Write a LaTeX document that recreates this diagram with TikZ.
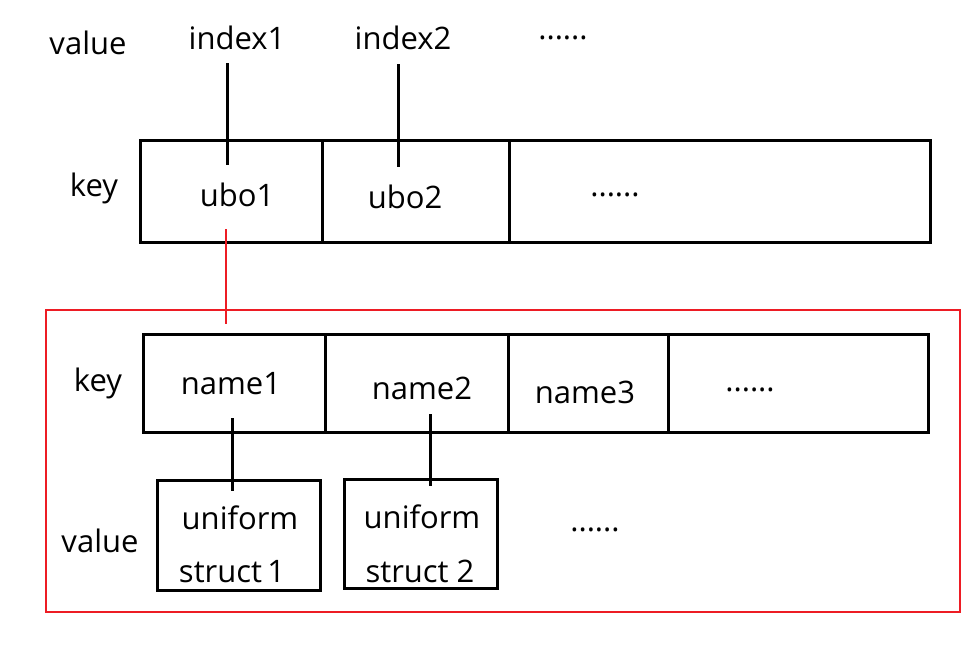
\documentclass[tikz,border=0pt]{standalone}
\usepackage{fontspec}
\setmainfont{Open Sans}
\definecolor{myred}{RGB}{237,28,36}
\begin{document}
\begin{tikzpicture}[x=1pt,y=-1pt,
  txt/.style={inner sep=0pt,font=\fontsize{31}{36}\selectfont},
  blk/.style={draw=black,line width=3pt},
  conn/.style={black,line width=3pt},
  redl/.style={draw=myred,line width=2.6pt}]
\useasboundingbox (0,0) rectangle (979,645);
% top row
\draw[blk] (140,140) rectangle (930,242);
\draw[blk] (322,140) -- (322,242);
\draw[blk] (509,140) -- (509,242);
\node[txt] (v1) at (88,43) {value};
\node[txt] (i1) at (237,38) {index1};
\node[txt] (i2) at (403,38) {index2};
\node[txt] (d1) at (563,38) {......};
\node[txt] (k1) at (94,188) {key};
\node[txt] (u1) at (237,195) {ubo1};
\node[txt] (u2) at (405,197) {ubo2};
\node[txt] (d2) at (615,195) {......};
\coordinate (i1a) at (227,63); \coordinate (i1b) at (227,165);
\coordinate (i2a) at (398,64); \coordinate (i2b) at (398,167);
\draw[conn] (i1a) -- (i1b);
\draw[conn] (i2a) -- (i2b);
% red box
\draw[redl] (46,310) rectangle (960,612);
\coordinate (ra) at (226,229); \coordinate (rb) at (226,324);
\draw[myred,line width=2.6pt] (ra) -- (rb);
% second row
\draw[blk] (143,334) rectangle (928,432);
\draw[blk] (325,334) -- (325,432);
\draw[blk] (508,334) -- (508,432);
\draw[blk] (668,334) -- (668,432);
\node[txt] (k2) at (98,383) {key};
\node[txt] (n1) at (231,384) {name1};
\node[txt] (n2) at (422,388) {name2};
\node[txt] (n3) at (585,392) {name3};
\node[txt] (d3) at (750,390) {......};
% value boxes
\draw[blk] (157,480) rectangle (320,590);
\draw[blk] (344,479) rectangle (497,588);
\node[txt] (v2) at (100,541) {value};
\node[txt] (s1a) at (240,518) {uniform};
\node[txt] (s1b) at (232,572) {struct\,1};
\node[txt] (s2a) at (422,517) {uniform};
\node[txt] (s2b) at (420,571) {struct 2};
\node[txt] (d4) at (595,530) {......};
\coordinate (n1a) at (232,418); \coordinate (n1b) at (232,491);
\coordinate (n2a) at (430,414); \coordinate (n2b) at (430,486);
\draw[conn] (n1a) -- (n1b);
\draw[conn] (n2a) -- (n2b);
\end{tikzpicture}
\end{document}
